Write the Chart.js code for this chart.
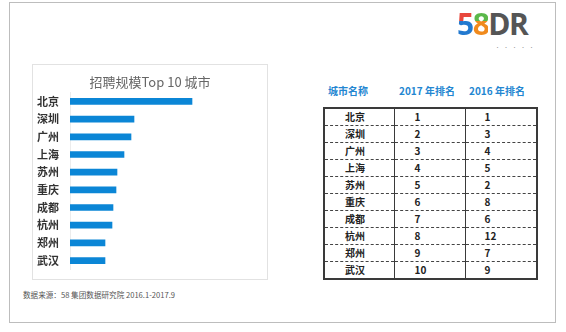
<!DOCTYPE html>
<html>
<head>
<meta charset="utf-8">
<script src="https://cdn.jsdelivr.net/npm/chart.js"></script>
<style>
  body { margin: 0; width: 566px; height: 332px; background: #fff; position: relative; overflow: hidden;
         font-family: "Noto Sans CJK SC", "Noto Sans", sans-serif; }
  #frame { position: absolute; left: 9px; top: 2px; width: 547px; height: 321px; box-sizing: border-box; border: 1px solid #bdbdbd; }
  #panel { position: absolute; left: 32px; top: 64px; width: 236px; height: 216px; box-sizing: border-box; border: 1px solid #e2e2e2; }
  #panel .box { position: absolute; left: 0; top: 0; width: 234px; height: 214px; }
  .hd { position: absolute; top: 83px; color: #2386d1; font-weight: bold; font-size: 10px; transform: translateX(-50%); white-space: nowrap; }
  #rank { position: absolute; left: 323px; top: 107px; width: 215px; border-collapse: collapse; border: 2px solid #3a3a3a; }
  #rank td { height: 16px; padding: 0; font-size: 10px; font-weight: bold; color: #222; border-bottom: 1px dashed #444; line-height: 16px; }
  #rank td:nth-child(1) { width: 70px; padding-left: 20px; box-sizing: border-box; }
  #rank td:nth-child(2) { width: 71px; padding-left: 20px; box-sizing: border-box; border-left: 1.5px solid #3a3a3a; }
  #rank td:nth-child(3) { padding-left: 19px; border-left: 1.5px solid #3a3a3a; }
  #src { position: absolute; left: 23px; top: 289px; font-size: 7.6px; color: #555; white-space: nowrap; }
  #logo { position: absolute; left: 457px; top: 6px; font-family: "Open Sans", sans-serif; font-weight: bold; font-size: 30px; letter-spacing: -1.5px; line-height: 36px; }
  #logo .f { background: linear-gradient(#e8473c 0 45%, #2279cf 45% 100%); -webkit-background-clip: text; color: transparent; }
  #logo .e { background: linear-gradient(#5bb84a 0 45%, #f08a1d 45% 100%); -webkit-background-clip: text; color: transparent; }
  #logo .dr { color: #555; }
  #dots { position: absolute; left: 495px; top: 43px; font-size: 5px; color: #999; letter-spacing: 3.5px; }
</style>
</head>
<body>
<div id="frame"></div>
<div id="logo"><span class="f">5</span><span class="e">8</span><span class="dr">DR</span></div>
<div id="dots">•••••</div>

<div id="panel"><div class="box"><canvas id="scaleChart"></canvas></div></div>

<div class="hd" style="left:348px">城市名称</div>
<div class="hd" style="left:427px">2017 年排名</div>
<div class="hd" style="left:497px">2016 年排名</div>
<table id="rank"><tbody id="rankBody"></tbody></table>

<div id="src">数据来源：58 集团数据研究院 2016.1-2017.9</div>

<script>
// --- data ---
const cities = ["北京", "深圳", "广州", "上海", "苏州", "重庆", "成都", "杭州", "郑州", "武汉"];
const scaleIndex = [122, 64, 61, 54, 47, 46, 43, 42, 35, 35];   // 相对招聘规模
const rank2017 = [1, 2, 3, 4, 5, 6, 7, 8, 9, 10];
const rank2016 = [1, 3, 4, 5, 2, 8, 6, 12, 7, 9];

// ranking table
const tb = document.getElementById('rankBody');
cities.forEach((c, i) => {
    const tr = document.createElement('tr');
    tr.innerHTML = `<td>${c}</td><td>${rank2017[i]}</td><td>${rank2016[i]}</td>`;
    tb.appendChild(tr);
});

// bar chart
new Chart(document.getElementById('scaleChart'), {
    type: 'bar',
    data: {
        labels: cities,
        datasets: [{
            data: scaleIndex,
            backgroundColor: '#0b86d6',
            barThickness: 6
        }]
    },
    options: {
        indexAxis: 'y',
        responsive: true,
        maintainAspectRatio: false,
        animation: false,
        layout: { padding: { left: 0, right: 0, top: 0, bottom: 6 } },
        plugins: {
            legend: { display: false },
            tooltip: { enabled: false },
            title: {
                display: true,
                text: '招聘规模Top 10 城市',
                color: '#666',
                font: { size: 13, weight: 'normal', family: '"Noto Sans CJK SC", sans-serif' },
                padding: { top: 9, bottom: 3 }
            }
        },
        scales: {
            x: { display: false, min: 0, max: 197 },
            y: {
                grid: { display: false },
                border: { display: true, color: '#ececec' },
                ticks: {
                    padding: 3,
                    color: '#333',
                    font: { size: 11, weight: 'bold', family: '"Noto Sans CJK SC", sans-serif' }
                },
                afterFit: s => { s.width = 37; }
            }
        }
    }
});
</script>
</body>
</html>
